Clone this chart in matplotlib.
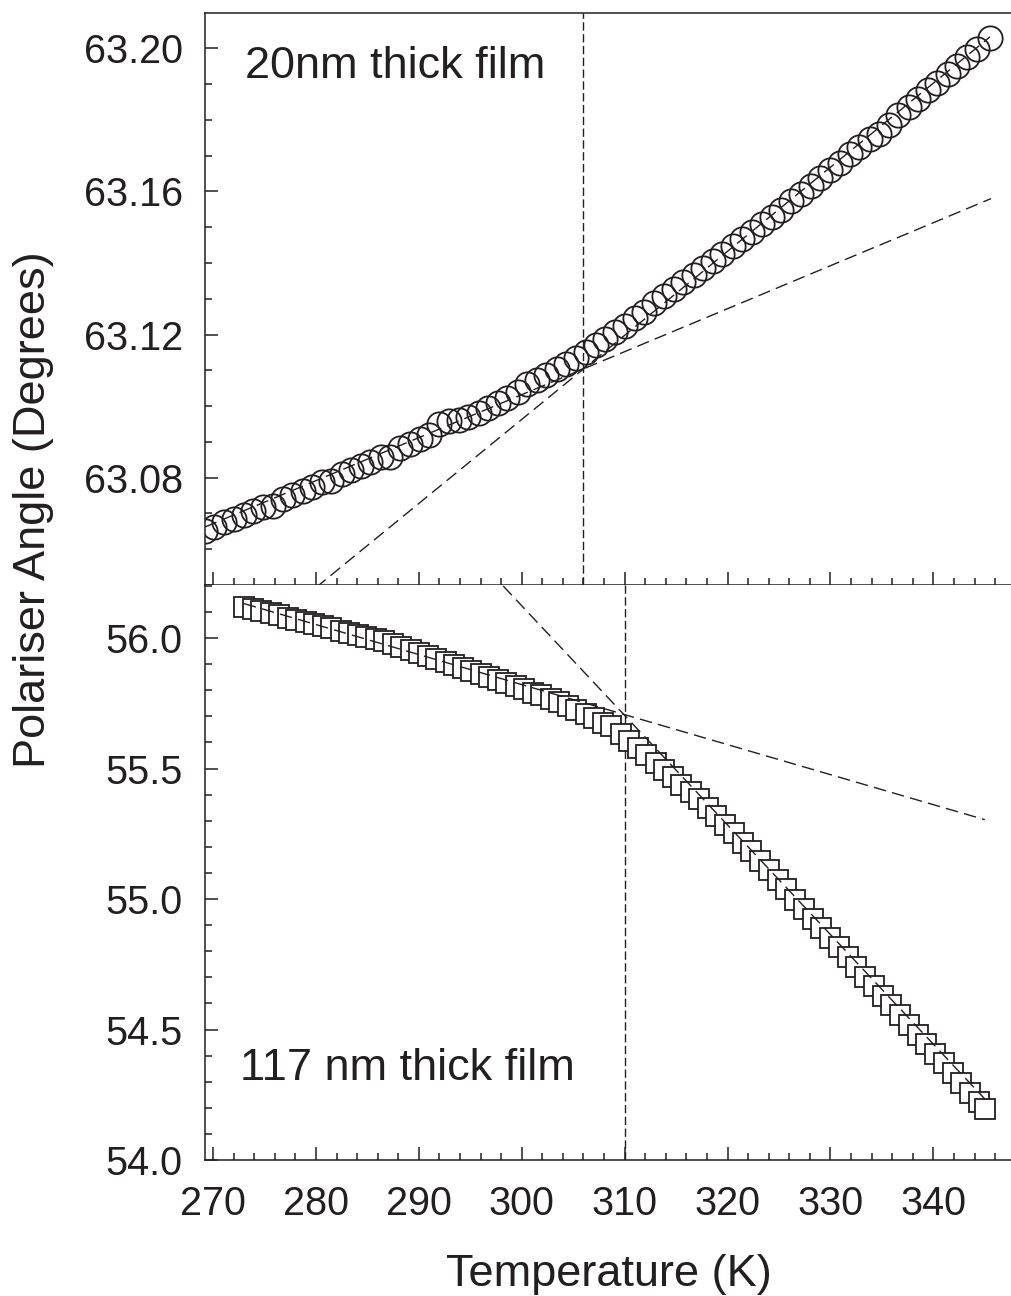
import matplotlib
matplotlib.use("Agg")
import matplotlib.pyplot as plt
from matplotlib.ticker import MultipleLocator

# 20 nm film (circles)
temp_20nm = [269.2, 270.1, 271.1, 272.0, 273.0, 273.9, 274.9, 275.8, 276.8, 277.7,
             278.7, 279.6, 280.6, 281.5, 282.5, 283.4, 284.4, 285.3, 286.3, 287.2,
             288.2, 289.1, 290.1, 291.0, 292.0, 292.9, 293.9, 294.8, 295.8, 296.7,
             297.7, 298.6, 299.6, 300.5, 301.5, 302.4, 303.4, 304.3, 305.3, 306.2,
             307.2, 308.1, 309.1, 310.0, 311.0, 311.9, 312.9, 313.8, 314.8, 315.7,
             316.7, 317.6, 318.6, 319.5, 320.5, 321.4, 322.4, 323.3, 324.3, 325.2,
             326.2, 327.1, 328.1, 329.0, 330.0, 330.9, 331.9, 332.8, 333.8, 334.7,
             335.7, 336.6, 337.6, 338.5, 339.5, 340.4, 341.4, 342.3, 343.3, 344.2,
             345.5]
angle_20nm = [63.0652, 63.0663, 63.0675, 63.0685, 63.0697, 63.0707, 63.0719, 63.0720, 63.0741, 63.0752,
              63.0764, 63.0775, 63.0787, 63.0790, 63.0811, 63.0822, 63.0834, 63.0845, 63.0858, 63.0858,
              63.0882, 63.0894, 63.0907, 63.0919, 63.0950, 63.0958, 63.0960, 63.0969, 63.0982, 63.0994,
              63.1008, 63.1023, 63.1040, 63.1062, 63.1072, 63.1087, 63.1103, 63.1118, 63.1135, 63.1150,
              63.1170, 63.1188, 63.1208, 63.1225, 63.1245, 63.1263, 63.1288, 63.1307, 63.1328, 63.1346,
              63.1367, 63.1385, 63.1406, 63.1425, 63.1447, 63.1467, 63.1488, 63.1508, 63.1529, 63.1549,
              63.1572, 63.1593, 63.1616, 63.1637, 63.1660, 63.1681, 63.1704, 63.1725, 63.1748, 63.1760,
              63.1785, 63.1814, 63.1837, 63.1858, 63.1883, 63.1904, 63.1929, 63.1950, 63.1975, 63.1997,
              63.2028]

# 117 nm film (squares)
temp_117nm = [273.0, 273.9, 274.7, 275.6, 276.4, 277.3, 278.1, 279.0, 279.8, 280.7,
              281.5, 282.4, 283.2, 284.1, 284.9, 285.8, 286.6, 287.5, 288.3, 289.2,
              290.0, 290.9, 291.7, 292.6, 293.4, 294.3, 295.1, 296.0, 296.8, 297.7,
              298.5, 299.4, 300.2, 301.1, 301.9, 302.8, 303.6, 304.5, 305.3, 306.2,
              307.0, 307.9, 308.7, 309.6, 310.4, 311.3, 312.1, 313.0, 313.8, 314.7,
              315.5, 316.4, 317.2, 318.1, 318.9, 319.8, 320.6, 321.5, 322.3, 323.2,
              324.0, 324.9, 325.7, 326.6, 327.4, 328.3, 329.1, 330.0, 330.8, 331.7,
              332.5, 333.4, 334.2, 335.1, 335.9, 336.8, 337.6, 338.5, 339.3, 340.2,
              341.0, 341.9, 342.7, 343.6, 344.4, 345.0]
angle_117nm = [56.120, 56.111, 56.103, 56.095, 56.087, 56.078, 56.070, 56.061, 56.053, 56.045,
               56.037, 56.028, 56.020, 56.011, 56.004, 55.995, 55.987, 55.977, 55.966, 55.954,
               55.943, 55.931, 55.920, 55.908, 55.897, 55.885, 55.874, 55.862, 55.851, 55.838,
               55.827, 55.815, 55.804, 55.791, 55.780, 55.767, 55.754, 55.738, 55.723, 55.707,
               55.692, 55.676, 55.662, 55.634, 55.607, 55.578, 55.551, 55.522, 55.496, 55.466,
               55.437, 55.410, 55.384, 55.350, 55.318, 55.283, 55.252, 55.216, 55.185, 55.146,
               55.111, 55.072, 55.037, 54.998, 54.963, 54.924, 54.889, 54.850, 54.815, 54.776,
               54.741, 54.702, 54.667, 54.628, 54.593, 54.554, 54.519, 54.480, 54.445, 54.406,
               54.371, 54.332, 54.297, 54.258, 54.223, 54.197]

# straight-line fits (end points)
fit20_low_t = [269.2, 345.6]
fit20_low_v = [63.0662, 63.1580]
fit20_high_t = [280.0, 345.5]
fit20_high_v = [63.0493, 63.2032]
fit117_low_t = [273.0, 345.0]
fit117_low_v = [56.132, 55.304]
fit117_high_t = [298.2, 345.0]
fit117_high_v = [56.199, 54.234]

tg_20nm = 306.0
tg_117nm = 310.0

ink = '#231f20'
plt.rcParams['font.family'] = ['Liberation Sans', 'DejaVu Sans']
plt.rcParams['lines.scale_dashes'] = False

fig = plt.figure(figsize=(10.12, 12.96), dpi=100)
ax_top = fig.add_axes([0.2026, 0.5486, 0.7990, 0.4414])
ax_bot = fig.add_axes([0.2026, 0.1049, 0.7990, 0.4437])

xmin, xmax = 269.22, 347.8

# top panel
ax_top.plot(temp_20nm, angle_20nm, linestyle='none', marker='o', markersize=17.5,
            markerfacecolor='none', markeredgecolor=ink, markeredgewidth=1.3, zorder=3)
ax_top.plot(fit20_low_t, fit20_low_v, color=ink, lw=1.0, dashes=(9, 4.5), zorder=4)
ax_top.plot(fit20_high_t, fit20_high_v, color=ink, lw=1.0, dashes=(9, 4.5), zorder=4)
ax_top.axvline(tg_20nm, color=ink, lw=1.0, dashes=(6, 2.5), zorder=2)
ax_top.set_xlim(xmin, xmax)
ax_top.set_ylim(63.0500, 63.2099)
ax_top.yaxis.set_major_locator(MultipleLocator(0.04))
ax_top.yaxis.set_minor_locator(MultipleLocator(0.01))
ax_top.yaxis.set_major_formatter(lambda v, p: f"{v:.2f}")
ax_top.text(0.0496, 0.906, '20nm thick film', transform=ax_top.transAxes,
            fontsize=32.5, color=ink, va='center', ha='left')
ax_top.tick_params(labelbottom=False)

# bottom panel
ax_bot.plot(temp_117nm, angle_117nm, linestyle='none', marker='s', markersize=14,
            markerfacecolor='white', markeredgecolor=ink, markeredgewidth=1.3, zorder=3)
ax_bot.plot(fit117_low_t, fit117_low_v, color=ink, lw=1.0, dashes=(9, 4.5), zorder=4)
ax_bot.plot(fit117_high_t, fit117_high_v, color=ink, lw=1.0, dashes=(9, 4.5), zorder=4)
ax_bot.axvline(tg_117nm, color=ink, lw=1.0, dashes=(6, 2.5), zorder=2)
ax_bot.set_xlim(xmin, xmax)
ax_bot.set_ylim(54.0, 56.203)
ax_bot.yaxis.set_major_locator(MultipleLocator(0.5))
ax_bot.yaxis.set_minor_locator(MultipleLocator(0.1))
ax_bot.yaxis.set_major_formatter(lambda v, p: f"{v:.1f}")
ax_bot.text(0.0434, 0.160, '117 nm thick film', transform=ax_bot.transAxes,
            fontsize=32.5, color=ink, va='center', ha='left')

for ax in (ax_top, ax_bot):
    ax.xaxis.set_major_locator(MultipleLocator(10))
    ax.xaxis.set_minor_locator(MultipleLocator(2))
    ax.tick_params(which='both', direction='in', top=False, right=False,
                   color=ink, width=1.1, labelcolor=ink, labelsize=28.5)
    ax.tick_params(which='major', length=9.5)
    ax.tick_params(which='minor', length=5)
    ax.tick_params(axis='y', pad=16)
    ax.tick_params(axis='x', pad=18)
    ax.spines['right'].set_visible(False)
    for side in ('left', 'top', 'bottom'):
        ax.spines[side].set_linewidth(1.1)
        ax.spines[side].set_color(ink)
ax_bot.spines['top'].set_visible(False)

ax_bot.set_xlabel('Temperature (K)', fontsize=32.5, color=ink, labelpad=22)
fig.text(0.033, 1 - 510 / 1296, 'Polariser Angle (Degrees)', rotation=90,
         fontsize=32.5, color=ink, ha='center', va='center')

fig.savefig('out.png', dpi=100)
